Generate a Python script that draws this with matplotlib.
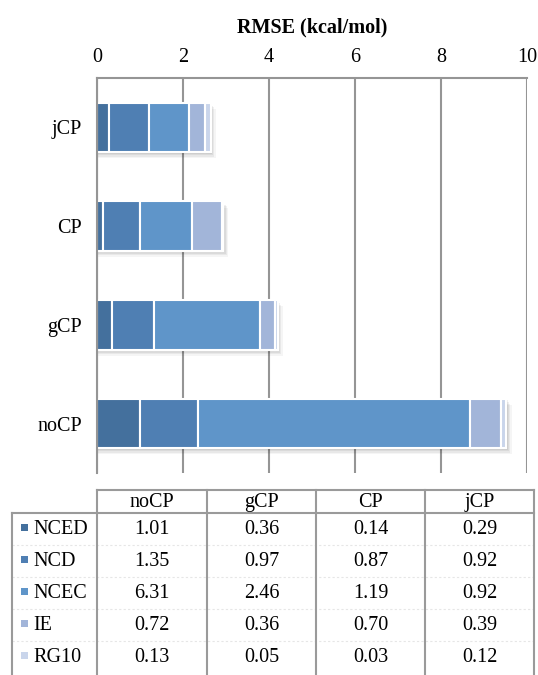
import matplotlib
matplotlib.use("Agg")
import matplotlib.pyplot as plt
from matplotlib.patches import Rectangle
from matplotlib.lines import Line2D

plt.rcParams['font.family'] = ['Liberation Serif', 'DejaVu Serif']

# RMSE contributions per counterpoise scheme
schemes = ["noCP", "gCP", "CP", "jCP"]
components = ["NCED", "NCD", "NCEC", "IE", "RG10"]
nced = [1.01, 0.36, 0.14, 0.29]
ncd = [1.35, 0.97, 0.87, 0.92]
ncec = [6.31, 2.46, 1.19, 0.92]
ie = [0.72, 0.36, 0.70, 0.39]
rg10 = [0.13, 0.05, 0.03, 0.12]
series = [nced, ncd, ncec, ie, rg10]
colors = ["#44709d", "#4f7fb3", "#5f95c9", "#a2b5d9", "#c9d5eb"]
xticks = [0, 2, 4, 6, 8, 10]

FS = 14.5
W, H = 538, 675
fig = plt.figure(figsize=(W / 100, H / 100), dpi=100)


def fx(px):
    return px / W


def fy(py):
    return 1 - py / H


ax = fig.add_axes([fx(97), fy(473), fx(527) - fx(97), fy(78) - fy(473)])
ax.set_xlim(0, 10)
ax.set_ylim(-0.5, 3.5)

grid_c = "#959595"
for x in xticks:
    ax.axvline(x, color=grid_c, lw=1.5, zorder=0)

ypos = list(range(len(schemes)))
totals = [sum(s[i] for s in series) for i in ypos]

# soft drop shadow under each bar
for i in ypos:
    for k, a in enumerate([0.06, 0.06, 0.05, 0.04]):
        off = 0.012 * (k + 1)
        ax.add_patch(Rectangle((0.0, i - 0.25 - off * 1.3), totals[i] + 0.03 * (k + 1),
                               0.5, facecolor="black", alpha=a, lw=0, zorder=1))

left = [0.0] * len(schemes)
for vals, c in zip(series, colors):
    ax.barh(ypos, vals, left=left, height=0.5, color=c, edgecolor="white",
            linewidth=1.5, zorder=2)
    left = [l + v for l, v in zip(left, vals)]

ax.set_yticks(ypos)
ax.set_yticklabels(schemes, fontsize=FS)
ax.set_xticks(xticks)
ax.set_xticklabels([str(x) for x in xticks], fontsize=FS)
ax.xaxis.tick_top()
ax.xaxis.set_label_position("top")
ax.tick_params(axis="both", length=0)
ax.tick_params(axis="y", pad=11)
ax.tick_params(axis="x", pad=8)
ax.set_xlabel("RMSE (kcal/mol)", fontsize=FS, fontweight="bold", labelpad=11)
for s in ["right", "bottom"]:
    ax.spines[s].set_visible(False)
for s in ["left", "top"]:
    ax.spines[s].set_color(grid_c)
    ax.spines[s].set_linewidth(1.5)

# data table below the chart
col_edges = [97, 207, 316, 425, 534]
row_top = 490
hdr_bot = 513
row_h = 32
leg_left = 12
line_c = "#9a9a9a"


def hline(x0, x1, y, **kw):
    fig.add_artist(Line2D([fx(x0), fx(x1)], [fy(y), fy(y)], color=kw.get("c", line_c),
                          lw=kw.get("lw", 1.5), ls=kw.get("ls", "-")))


def vline(x, y0, y1):
    fig.add_artist(Line2D([fx(x), fx(x)], [fy(y0), fy(y1)], color=line_c, lw=1.5))


hline(col_edges[0], col_edges[-1], row_top)
hline(leg_left, col_edges[-1], hdr_bot)
for k in range(1, 5):
    hline(leg_left, col_edges[-1], hdr_bot + k * row_h, c="#e6e6e6", lw=0.8, ls=(0, (2, 2)))
for x in col_edges:
    vline(x, row_top, H + 5)
vline(leg_left, hdr_bot, H + 5)

for j, name in enumerate(schemes):
    cx = (col_edges[j] + col_edges[j + 1]) / 2
    fig.text(fx(cx), fy((row_top + hdr_bot) / 2 + 1), name, ha="center", va="center",
             fontsize=FS)

for r, (name, vals, c) in enumerate(zip(components, series, colors)):
    cy = hdr_bot + r * row_h + row_h / 2 + 1
    fig.add_artist(Rectangle((fx(21), fy(cy + 1)), fx(7), fy(0) - fy(7),
                             facecolor=c, lw=0, transform=fig.transFigure))
    fig.text(fx(33), fy(cy), name, ha="left", va="center", fontsize=FS)
    for j, v in enumerate(vals):
        cx = (col_edges[j] + col_edges[j + 1]) / 2
        fig.text(fx(cx), fy(cy), f"{v:.2f}", ha="center", va="center", fontsize=FS)

fig.savefig("out.png", dpi=100)
